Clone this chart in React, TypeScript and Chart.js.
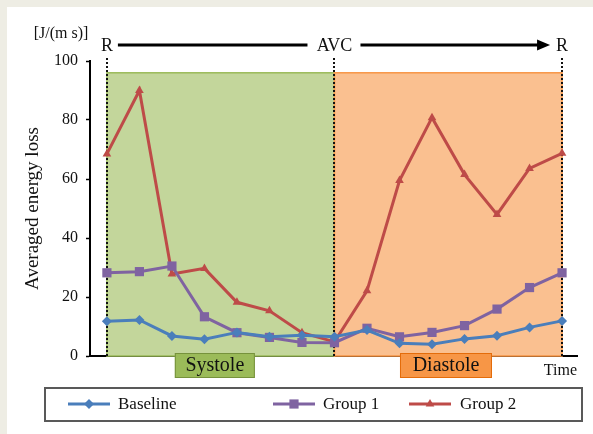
import React, { useEffect, useRef } from 'react';
import { Chart, registerables } from 'chart.js';

Chart.register(...registerables);

// ---- data ----
const timeIndex = [0, 1, 2, 3, 4, 5, 6, 7, 8, 9, 10, 11, 12, 13, 14];
const baseline = [11.8, 12.2, 6.8, 5.7, 8.0, 6.5, 7.0, 6.5, 8.8, 4.3, 4.0, 5.8, 6.9, 9.7, 11.9];
const group1 = [28.2, 28.6, 30.5, 13.3, 7.9, 6.3, 4.6, 4.5, 9.4, 6.5, 8.0, 10.3, 15.9, 23.2, 28.2];
const group2 = [68.5, 90.0, 27.8, 29.7, 18.2, 15.3, 7.9, 4.8, 22.1, 59.5, 80.8, 61.5, 48.0, 63.6, 68.7];
const seriesNames = ['Baseline', 'Group 1', 'Group 2'];
const yTickValues = [0, 20, 40, 60, 80, 100];
const phaseNames = ['Systole', 'Diastole'];
const phaseStart = [0, 7];
const phaseEnd = [7, 14];
const phaseLabelCenter = [3.32, 10.43];
const phaseBoxTop = 96;
const eventLabels = ['R', 'AVC', 'R'];
const eventAt = [0, 7, 14];

// ---- styles ----
const SERIF = "'Liberation Serif', 'Times New Roman', serif";
const COLORS = ['#4A7EBB', '#7F63A1', '#BE4B48'];
const POINT_STYLES = ['rectRot', 'rect', 'triangle'];
const POINT_RADII = [5, 6.5, 5];
const PHASE_FILL = ['#C3D69B', '#FAC090'];
const PHASE_BORDER = ['#9BBB59', '#F79646'];
const LABEL_FILL = ['#9BBB59', '#F79646'];
const LABEL_BORDER = ['#76923C', '#E46C0A'];
const LABEL_WIDTH = [80, 92];

const font = (s: number) => `${s}px ${SERIF}`;

function drawMarker(ctx: CanvasRenderingContext2D, style: string, cx: number, cy: number, r: number) {
  ctx.beginPath();
  if (style === 'rectRot') {
    ctx.moveTo(cx, cy - r);
    ctx.lineTo(cx + r, cy);
    ctx.lineTo(cx, cy + r);
    ctx.lineTo(cx - r, cy);
  } else if (style === 'rect') {
    const s = Math.SQRT1_2 * r;
    ctx.rect(cx - s, cy - s, 2 * s, 2 * s);
  } else {
    ctx.moveTo(cx, cy - r);
    ctx.lineTo(cx + r * 0.866, cy + r * 0.5);
    ctx.lineTo(cx - r * 0.866, cy + r * 0.5);
  }
  ctx.closePath();
  ctx.fill();
}

const overlay = {
  id: 'overlay',
  beforeDatasetsDraw(chart: any) {
    const { ctx, scales } = chart;
    const x = scales.x;
    const y = scales.y;
    ctx.save();
    const t = y.getPixelForValue(phaseBoxTop);
    const b = y.getPixelForValue(0);
    phaseNames.forEach((_, i) => {
      const l = x.getPixelForValue(phaseStart[i]);
      const r = x.getPixelForValue(phaseEnd[i]);
      ctx.fillStyle = PHASE_FILL[i];
      ctx.fillRect(l, t, r - l, b - t);
      ctx.strokeStyle = PHASE_BORDER[i];
      ctx.lineWidth = 1.5;
      ctx.strokeRect(l, t, r - l, b - t);
    });
    ctx.setLineDash([2, 2]);
    ctx.strokeStyle = '#111';
    ctx.lineWidth = 2;
    eventAt.forEach((v) => {
      const px = Math.round(x.getPixelForValue(v));
      ctx.beginPath();
      ctx.moveTo(px, 58);
      ctx.lineTo(px, b);
      ctx.stroke();
    });
    ctx.restore();
  },
  afterDraw(chart: any) {
    const { ctx, scales } = chart;
    const x = scales.x;
    const y = scales.y;
    ctx.save();
    ctx.fillStyle = '#111';
    ctx.textBaseline = 'middle';
    ctx.textAlign = 'center';

    // unit label
    ctx.font = font(16);
    ctx.fillText('[J/(m s)]', 61, 34);

    // event arrow
    const ay = 45;
    ctx.font = font(18);
    const p = eventAt.map((v) => x.getPixelForValue(v));
    eventLabels.forEach((lab, i) => ctx.fillText(lab, p[i], ay + 1));
    ctx.strokeStyle = '#000';
    ctx.fillStyle = '#000';
    ctx.lineWidth = 3;
    ctx.beginPath();
    ctx.moveTo(p[0] + 11, ay);
    ctx.lineTo(p[1] - 27, ay);
    ctx.moveTo(p[1] + 26, ay);
    ctx.lineTo(p[2] - 24, ay);
    ctx.stroke();
    ctx.beginPath();
    ctx.moveTo(p[2] - 12, ay);
    ctx.lineTo(p[2] - 25, ay - 5.5);
    ctx.lineTo(p[2] - 25, ay + 5.5);
    ctx.closePath();
    ctx.fill();

    // phase label boxes
    const by = y.getPixelForValue(0) - 3;
    phaseNames.forEach((name, i) => {
      const cx = x.getPixelForValue(phaseLabelCenter[i]);
      const w = LABEL_WIDTH[i];
      ctx.fillStyle = LABEL_FILL[i];
      ctx.fillRect(cx - w / 2, by, w, 25);
      ctx.strokeStyle = LABEL_BORDER[i];
      ctx.lineWidth = 1;
      ctx.strokeRect(cx - w / 2 + 0.5, by + 0.5, w - 1, 24);
      ctx.fillStyle = '#111';
      ctx.font = font(20);
      ctx.fillText(name, cx, by + 13);
    });

    // legend
    ctx.strokeStyle = '#595959';
    ctx.lineWidth = 2;
    ctx.strokeRect(45, 388, 537, 33);
    const ly = 404;
    const sampleCenter = [89, 294, 430];
    const textStart = [118, 323, 460];
    seriesNames.forEach((name, i) => {
      ctx.strokeStyle = COLORS[i];
      ctx.fillStyle = COLORS[i];
      ctx.lineWidth = 3;
      ctx.beginPath();
      ctx.moveTo(sampleCenter[i] - 21, ly);
      ctx.lineTo(sampleCenter[i] + 21, ly);
      ctx.stroke();
      drawMarker(ctx, POINT_STYLES[i], sampleCenter[i], ly, POINT_RADII[i]);
      ctx.fillStyle = '#111';
      ctx.font = font(17);
      ctx.textAlign = 'left';
      ctx.fillText(name, textStart[i], ly + 1);
    });
    ctx.restore();
  },
};

export default function App() {
  const canvasRef = useRef<HTMLCanvasElement>(null);

  useEffect(() => {
    const canvas = canvasRef.current;
    if (!canvas) return;
    const seriesValues = [baseline, group1, group2];
    const chart = new Chart(canvas, {
      type: 'line',
      data: {
        datasets: seriesNames.map((name, i) => ({
          label: name,
          data: timeIndex.map((t, j) => ({ x: t, y: seriesValues[i][j] })),
          borderColor: COLORS[i],
          backgroundColor: COLORS[i],
          borderWidth: 3,
          pointStyle: POINT_STYLES[i],
          pointRadius: POINT_RADII[i],
          pointBorderWidth: 0,
          pointBackgroundColor: COLORS[i],
          tension: 0,
          clip: false,
        })),
      },
      options: {
        animation: false,
        responsive: false,
        devicePixelRatio: 1,
        layout: { padding: { left: 0, right: 16, top: 61, bottom: 0 } },
        plugins: { legend: { display: false }, tooltip: { enabled: false } },
        scales: {
          x: {
            type: 'linear',
            min: -0.52,
            max: 14.46,
            grid: { display: false },
            border: { display: true, color: '#000', width: 2 },
            ticks: { display: false },
            title: {
              display: true,
              text: 'Time',
              align: 'end',
              color: '#111',
              font: { family: SERIF, size: 16 },
              padding: { top: 0, bottom: 54 },
            },
            afterFit: (s: any) => {
              s.height = 78;
            },
          },
          y: {
            type: 'linear',
            min: 0,
            max: 100,
            afterBuildTicks: (s: any) => {
              s.ticks = yTickValues.map((v) => ({ value: v }));
            },
            grid: {
              display: true,
              drawOnChartArea: false,
              drawTicks: true,
              tickLength: 4,
              tickWidth: 1.5,
              tickColor: '#000',
            },
            border: { display: true, color: '#000', width: 2 },
            ticks: {
              color: '#111',
              padding: 8,
              font: { family: SERIF, size: 16 },
            },
            title: {
              display: true,
              text: 'Averaged energy loss',
              color: '#111',
              font: { family: SERIF, size: 19 },
              padding: { top: 22, bottom: 0 },
            },
            afterFit: (s: any) => {
              s.width = 90;
            },
          },
        },
      },
      plugins: [overlay],
    } as any);
    return () => chart.destroy();
  }, []);

  return (
    <div style={{ position: 'relative', width: 593, height: 434, background: '#EEEDE4', overflow: 'hidden' }}>
      <style>{'body{margin:0}'}</style>
      <div style={{ position: 'absolute', left: 7, top: 7, right: 0, bottom: 0, background: '#fff' }} />
      <canvas
        ref={canvasRef}
        width={593}
        height={434}
        style={{ position: 'absolute', left: 0, top: 0, width: 593, height: 434 }}
      />
    </div>
  );
}
